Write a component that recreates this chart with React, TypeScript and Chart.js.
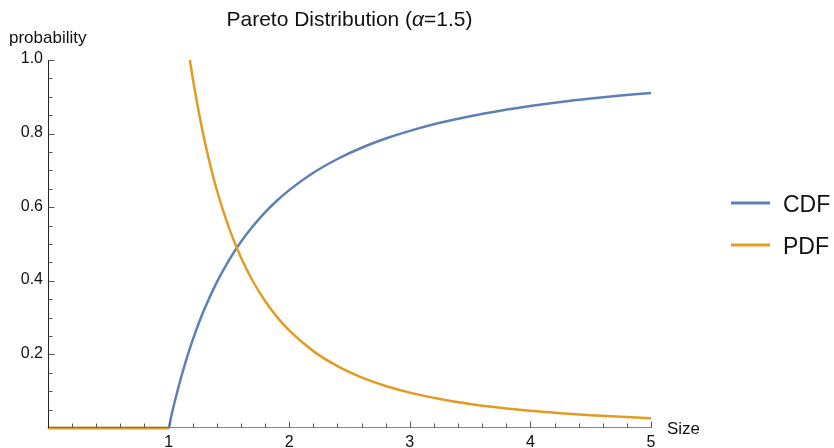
import React, { useEffect, useRef } from "react";
import { Chart, registerables } from "chart.js";

Chart.register(...registerables);

// Pareto distribution, alpha = 1.5, scale = 1
const cdfX = [0, 1, 1.02, 1.05, 1.1, 1.15, 1.2, 1.25, 1.3, 1.4, 1.5, 1.6, 1.7, 1.8, 1.9, 2.0, 2.2, 2.4, 2.6, 2.8, 3.0, 3.25, 3.5, 3.75, 4.0, 4.25, 4.5, 4.75, 5.0];
const cdfY = [0, 0, 0.0292, 0.0706, 0.1332, 0.1891, 0.2393, 0.2845, 0.3253, 0.3963, 0.4557, 0.5059, 0.5488, 0.5859, 0.6182, 0.6464, 0.6935, 0.731, 0.7615, 0.7866, 0.8075, 0.8293, 0.8473, 0.8623, 0.875, 0.8859, 0.8952, 0.9034, 0.9106];

const pdfX = [0, 1, 1.1, 1.176, 1.2, 1.22, 1.25, 1.3, 1.35, 1.4, 1.5, 1.6, 1.7, 1.8, 1.9, 2.0, 2.2, 2.4, 2.6, 2.8, 3.0, 3.25, 3.5, 3.75, 4.0, 4.25, 4.5, 4.75, 5.0];
const pdfY = [0, 0, null, 1.0, 0.9509, 0.9124, 0.8587, 0.7785, 0.7083, 0.6468, 0.5443, 0.4632, 0.3981, 0.3451, 0.3014, 0.2652, 0.2089, 0.1681, 0.1376, 0.1143, 0.0962, 0.0788, 0.0655, 0.0551, 0.0469, 0.0403, 0.0349, 0.0305, 0.0268];

const xTickValues = [1, 2, 3, 4, 5];
const yTickValues = [0.2, 0.4, 0.6, 0.8, 1.0];
const yTickLabels = ["0.2", "0.4", "0.6", "0.8", "1.0"];

const seriesNames = ["CDF", "PDF"];
const BLUE = "#5E81B5";
const ORANGE = "#E19C24";
const FONT = "'Liberation Sans', Arial, sans-serif";

const axesPlugin = {
  id: "mmaAxes",
  afterDatasetsDraw(chart: any) {
    const ctx = chart.ctx as CanvasRenderingContext2D;
    const xs = chart.scales.x;
    const ys = chart.scales.y;
    const x0 = Math.round(xs.getPixelForValue(0)) + 0.5;
    const x5 = xs.getPixelForValue(5);
    const y0 = Math.round(ys.getPixelForValue(0)) - 0.5;
    const y1 = ys.getPixelForValue(1);

    ctx.save();
    ctx.lineWidth = 1;

    // x axis
    ctx.strokeStyle = "rgba(110,110,110,0.85)";
    ctx.beginPath();
    ctx.moveTo(x0 - 1, y0);
    ctx.lineTo(x5 + 0.5, y0);
    ctx.stroke();

    // x ticks: major every 1, minor every 0.2
    ctx.strokeStyle = "#555";
    for (let i = 1; i <= 25; i++) {
      const v = i * 0.2;
      const px = Math.round(xs.getPixelForValue(v)) + 0.5;
      const len = i % 5 === 0 ? 6 : 4;
      ctx.beginPath();
      ctx.moveTo(px, y0);
      ctx.lineTo(px, y0 - len);
      ctx.stroke();
    }

    // y axis
    ctx.strokeStyle = "#222";
    ctx.beginPath();
    ctx.moveTo(x0, y0 + 0.5);
    ctx.lineTo(x0, y1);
    ctx.stroke();

    // y ticks: major every 0.2, minor every 0.05
    ctx.strokeStyle = "#555";
    for (let i = 1; i <= 20; i++) {
      const v = i * 0.05;
      const py = Math.round(ys.getPixelForValue(v)) + 0.5;
      const len = i % 4 === 0 ? 6 : 4;
      ctx.beginPath();
      ctx.moveTo(x0, py);
      ctx.lineTo(x0 + len, py);
      ctx.stroke();
    }

    // tick labels
    ctx.fillStyle = "#111";
    ctx.font = `16px ${FONT}`;
    ctx.textAlign = "center";
    ctx.textBaseline = "alphabetic";
    xTickValues.forEach((v) => {
      ctx.fillText(String(v), xs.getPixelForValue(v), y0 + 19.5);
    });
    ctx.textAlign = "right";
    ctx.textBaseline = "middle";
    yTickValues.forEach((v, i) => {
      ctx.fillText(yTickLabels[i], x0 - 5.5, ys.getPixelForValue(v) - 1);
    });

    // axis labels
    ctx.font = `17px ${FONT}`;
    ctx.textAlign = "left";
    ctx.textBaseline = "alphabetic";
    ctx.fillText("Size", x5 + 16, y0 + 6.5);
    ctx.fillText("probability", 9, 43);

    // title with italic alpha
    const parts: [string, string][] = [
      ["Pareto Distribution (", `21px ${FONT}`],
      ["\u03B1", `italic 21px ${FONT}`],
      ["=1.5)", `21px ${FONT}`],
    ];
    let total = 0;
    parts.forEach(([t, f]) => {
      ctx.font = f;
      total += ctx.measureText(t).width;
    });
    let tx = (chart.chartArea.left + chart.chartArea.right) / 2 - total / 2;
    parts.forEach(([t, f]) => {
      ctx.font = f;
      ctx.fillText(t, tx, 26);
      tx += ctx.measureText(t).width;
    });

    // legend
    const legendColors = [BLUE, ORANGE];
    const legendY = [203, 245];
    seriesNames.forEach((name, i) => {
      ctx.strokeStyle = legendColors[i];
      ctx.lineWidth = 3;
      ctx.beginPath();
      ctx.moveTo(731, legendY[i]);
      ctx.lineTo(770, legendY[i]);
      ctx.stroke();
      ctx.fillStyle = "#111";
      ctx.font = `23px ${FONT}`;
      ctx.fillText(name, 783, legendY[i] + 8.5);
    });

    ctx.restore();
  },
};

export default function App() {
  const canvasRef = useRef<HTMLCanvasElement | null>(null);

  useEffect(() => {
    if (!canvasRef.current) return;
    const chart = new Chart(canvasRef.current, {
      type: "line",
      data: {
        datasets: [
          {
            label: seriesNames[0],
            data: cdfX.map((x, i) => ({ x, y: cdfY[i] })),
            borderColor: BLUE,
            borderWidth: 2.5,
            pointRadius: 0,
            cubicInterpolationMode: "monotone",
            clip: false,
            order: 1,
          },
          {
            label: seriesNames[1],
            data: pdfX.map((x, i) => ({ x, y: pdfY[i] })),
            borderColor: ORANGE,
            borderWidth: 2.5,
            pointRadius: 0,
            cubicInterpolationMode: "monotone",
            spanGaps: false,
            clip: false,
            order: 0,
          },
        ],
      },
      options: {
        animation: false,
        responsive: false,
        layout: { padding: { left: 48, right: 183, top: 60, bottom: 20 } },
        plugins: {
          legend: { display: false },
          title: { display: false },
          tooltip: { enabled: false },
        },
        scales: {
          x: { type: "linear", min: 0, max: 5, display: false },
          y: { type: "linear", min: 0, max: 1, display: false },
        },
      },
      plugins: [axesPlugin],
    } as any);
    return () => chart.destroy();
  }, []);

  return (
    <div style={{ position: "fixed", left: 0, top: 0, width: 834, height: 448, background: "#fff" }}>
      <canvas ref={canvasRef} width={834} height={448} />
    </div>
  );
}
